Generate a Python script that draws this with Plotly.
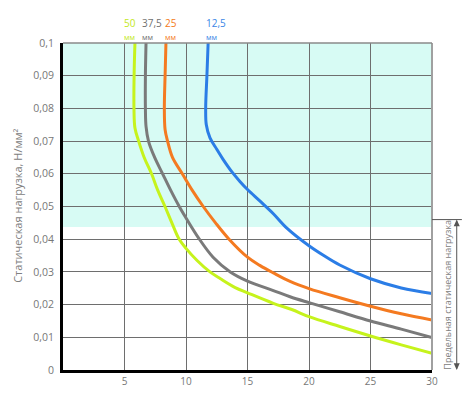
import plotly.graph_objs as go

# series data (x: horizontal axis value, y: static load, N/mm2)
names = ["50", "37,5", "25", "12,5"]
unit = "мм"

x_50 = [5.85, 5.78, 5.77, 5.85, 6.15, 6.6, 7.2, 7.7, 8.29, 8.85, 9.4, 10.0, 10.9, 11.95,
        12.8, 14.0, 15.0, 17.1, 18.6, 20.0, 22.5, 25.0, 27.5, 30.0]
y_50 = [0.100, 0.090, 0.080, 0.074, 0.070, 0.065, 0.060, 0.055, 0.050, 0.045, 0.0403, 0.0372,
        0.0335, 0.030, 0.0279, 0.0252, 0.0236, 0.0204, 0.0185, 0.0163, 0.0133, 0.0104, 0.0077, 0.0051]

x_375 = [6.75, 6.7, 6.7, 6.75, 6.95, 7.45, 8.1, 8.75, 9.45, 10.0, 11.0, 12.2, 13.6, 15.0,
         17.1, 18.46, 20.0, 22.5, 25.0, 27.5, 30.0]
y_375 = [0.100, 0.090, 0.080, 0.0745, 0.070, 0.065, 0.060, 0.055, 0.050, 0.0465, 0.0405, 0.0345,
         0.030, 0.0272, 0.0243, 0.0224, 0.0206, 0.0178, 0.0150, 0.0125, 0.0099]

x_25 = [8.37, 8.3, 8.24, 8.3, 8.5, 8.9, 9.7, 10.5, 11.4, 12.4, 13.5, 15.0, 16.0, 17.1,
        18.46, 20.0, 22.5, 25.0, 27.5, 30.0]
y_25 = [0.100, 0.090, 0.080, 0.0735, 0.070, 0.065, 0.060, 0.055, 0.050, 0.045, 0.040, 0.0345,
        0.032, 0.0297, 0.0271, 0.0249, 0.0221, 0.0195, 0.0172, 0.0153]

x_125 = [11.8, 11.7, 11.6, 11.65, 11.95, 12.5, 13.0, 13.75, 14.4, 15.0, 16.0, 17.1, 18.2,
         20.0, 21.2, 22.5, 25.0, 27.5, 30.0]
y_125 = [0.100, 0.090, 0.080, 0.075, 0.071, 0.0675, 0.0645, 0.0605, 0.0576, 0.0552, 0.0517,
         0.0478, 0.0434, 0.038, 0.035, 0.0321, 0.0279, 0.0251, 0.0234]

x_ticks = [5, 10, 15, 20, 25, 30]
y_ticks = [0, 0.01, 0.02, 0.03, 0.04, 0.05, 0.06, 0.07, 0.08, 0.09, 0.1]
y_ticktext = ["0", "0,01", "0,02", "0,03", "0,04", "0,05", "0,06", "0,07", "0,08", "0,09", "0,1"]

zone_low = 0.0437    # bottom of the shaded zone
limit_load = 0.046   # top of the "limit static load" bracket

y_title = "Статическая нагрузка, Н/мм²"
limit_title = "Предельная статическая нагрузка"

colors = ["#c6f31c", "#7a7a7a", "#f47a20", "#2b7de6"]
label_colors = ["#c2e81a", "#707070", "#f47a20", "#3a86e6"]
label_shift = [-12, -5, -2, -3]

series = [(x_50, y_50), (x_375, y_375), (x_25, y_25), (x_125, y_125)]

data = []
for i, (xs, ys) in enumerate(series):
    data.append(go.Scatter(
        x=xs,
        y=ys,
        mode='lines',
        name=names[i] + " " + unit,
        line=dict(color=colors[i], width=3, shape='spline', smoothing=1.0),
        hoverinfo='none'
    ))

font = "Open Sans, Noto Sans, sans-serif"

layout = go.Layout(
    width=470,
    height=400,
    margin=dict(l=63, r=38, t=43, b=18),
    paper_bgcolor='white',
    plot_bgcolor='white',
    showlegend=False,
    font=dict(family=font, color='#777777'),
    xaxis=dict(
        range=[0, 30],
        tickvals=x_ticks,
        showgrid=True,
        gridcolor='#6e6e6e',
        gridwidth=1,
        zeroline=False,
        showline=True,
        linecolor='black',
        linewidth=3,
        ticks='',
        tickfont=dict(size=10, color='#777777'),
    ),
    yaxis=dict(
        range=[0, 0.1],
        tickvals=y_ticks,
        ticktext=y_ticktext,
        showgrid=True,
        gridcolor='#6e6e6e',
        gridwidth=1,
        zeroline=False,
        showline=True,
        linecolor='black',
        linewidth=3,
        ticks='',
        ticklabelstandoff=4,
        tickfont=dict(size=10.5, color='#777777'),
    ),
)

fig = go.Figure(data=data, layout=layout)

# shaded zone above the limit load
fig.add_shape(type='rect', xref='x', yref='y', x0=0, x1=30, y0=zone_low, y1=0.1,
              fillcolor='#d7fbf4', line=dict(width=0), layer='below')

# right and top border
fig.add_shape(type='line', xref='paper', yref='paper', x0=1, x1=1, y0=0, y1=1,
              line=dict(color='#a0a0a0', width=2))
fig.add_shape(type='line', xref='paper', yref='paper', x0=0, x1=1, y0=1, y1=1,
              line=dict(color='#8a8a8a', width=1.5))

# bracket for the limit static load
top = limit_load / 0.1
ax_x = 1.067
px, py = 1 / 369, 1 / 339
fig.add_shape(type='line', xref='paper', yref='paper', x0=1, x1=1.081, y0=top, y1=top,
              line=dict(color='#555555', width=1))
fig.add_shape(type='line', xref='paper', yref='paper', x0=ax_x, x1=ax_x, y0=0.004, y1=top - 0.004,
              line=dict(color='#555555', width=1))
fig.add_shape(type='path', xref='paper', yref='paper',
              path="M %f,%f L %f,%f L %f,%f Z" % (ax_x - 3 * px, top - 7 * py, ax_x, top,
                                                  ax_x + 3 * px, top - 7 * py),
              fillcolor='#555555', line=dict(width=0))
fig.add_shape(type='path', xref='paper', yref='paper',
              path="M %f,%f L %f,%f L %f,%f Z" % (ax_x - 3 * px, 7 * py, ax_x, 0,
                                                  ax_x + 3 * px, 7 * py),
              fillcolor='#555555', line=dict(width=0))
fig.add_annotation(xref='paper', yref='paper', x=1.043, y=top / 2,
                   xanchor='center', yanchor='middle',
                   text=limit_title, showarrow=False, textangle=-90,
                   font=dict(size=9, color='#808080'))

# y axis title
fig.add_annotation(xref='paper', yref='paper', x=-0.122, y=0.502,
                   xanchor='center', yanchor='middle',
                   text=y_title, showarrow=False, textangle=-90,
                   font=dict(size=11, color='#808080'))

# curve labels above the plot: number with the unit below it
for i, (xs, ys) in enumerate(series):
    fig.add_annotation(xref='x', yref='paper', x=xs[0], y=1.0354, xshift=label_shift[i],
                       text=names[i], showarrow=False, xanchor='left', yanchor='bottom',
                       borderpad=0, font=dict(size=10, color=label_colors[i]))
    fig.add_annotation(xref='x', yref='paper', x=xs[0], y=1.0354, xshift=label_shift[i],
                       text=unit, showarrow=False, xanchor='left', yanchor='top',
                       borderpad=0, font=dict(size=7.5, color=label_colors[i]))

fig.write_html("out.html", config={'displayModeBar': False},
               post_script="document.body.style.margin='0';")
